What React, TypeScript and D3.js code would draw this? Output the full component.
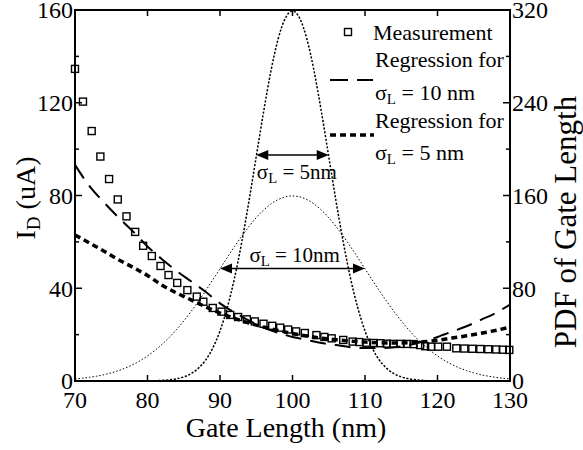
import React from 'react';
import * as d3 from 'd3';

// measured drain current vs gate length
const gateLength = [70, 71.1, 72.3, 73.5, 74.7, 75.9, 77.1, 78.3, 79.4, 80.6, 81.8, 82.9, 84.1, 85.5, 86.8, 87.7, 89.0, 90.2, 91.4, 92.5, 93.7, 94.8, 96.0, 97.2, 98.3, 99.4, 100.5, 101.7, 103.3, 104.4, 105.4, 107.0, 108.3, 109.2, 110.2, 111.2, 112.1, 113.0, 113.9, 114.9, 115.8, 116.7, 117.6, 118.3, 119.1, 120.1, 121.3, 122.6, 123.7, 124.8, 125.9, 127.0, 128.1, 129.0, 129.9];
const measured = [134.6, 120.5, 107.8, 96.8, 87.1, 78.3, 71.0, 64.3, 58.3, 53.9, 49.6, 45.7, 42.3, 39.2, 36.4, 34.2, 31.5, 29.9, 28.5, 27.6, 26.6, 25.7, 24.7, 23.8, 23.0, 22.2, 21.4, 20.7, 19.8, 19.0, 18.4, 17.7, 17.0, 16.8, 16.5, 16.4, 16.3, 16.1, 16.0, 16.0, 16.0, 15.9, 15.5, 15.0, 14.8, 14.8, 14.8, 14.1, 14.0, 13.9, 13.8, 13.7, 13.6, 13.5, 13.4];

// regression curves
const fitX = [70, 72, 74, 76, 78, 80, 82, 84, 86, 88, 90, 92, 94, 96, 98, 100, 102, 104, 106, 108, 110, 112, 114, 116, 118, 120, 122, 124, 126, 128, 130];
const fit10 = [93.2, 84.0, 77.0, 70.5, 64.5, 58.0, 52.5, 47.5, 43.0, 38.5, 33.5, 29.5, 26.0, 23.0, 20.8, 19.0, 17.7, 16.4, 15.5, 14.6, 14.2, 14.2, 14.6, 15.5, 17.0, 19.0, 21.3, 23.6, 26.4, 29.3, 33.0];
const fit5 = [63.0, 59.5, 56.0, 52.3, 49.0, 45.5, 41.3, 38.0, 35.0, 32.0, 29.3, 27.0, 25.0, 23.3, 21.8, 20.5, 19.4, 18.5, 17.8, 17.2, 16.8, 16.5, 16.4, 16.5, 16.9, 17.6, 18.5, 19.5, 20.6, 21.8, 23.2];

// gate length PDFs (right axis), 1 nm steps 70..130
const pdfX = d3.range(70, 131);
const pdf5 = [0, 0, 0, 0, 0, 0, 0, 0, 0, 0, 0.1, 0.2, 0.5, 1.0, 1.9, 3.5, 6.3, 10.9, 17.9, 28.4, 43.2, 63.2, 88.7, 119.8, 155.4, 193.6, 231.7, 266.6, 294.6, 312.8, 319.2,
  312.8, 294.6, 266.6, 231.7, 193.6, 155.4, 119.8, 88.7, 63.2, 43.2, 28.4, 17.9, 10.9, 6.3, 3.5, 1.9, 1.0, 0.5, 0.2, 0.1, 0, 0, 0, 0, 0, 0, 0, 0, 0, 0];
const pdf10 = [1.8, 2.4, 3.2, 4.2, 5.4, 7.0, 9.0, 11.3, 14.2, 17.6, 21.6, 26.3, 31.6, 37.6, 44.4, 51.8, 59.9, 68.6, 77.7, 87.2, 96.8, 106.5, 115.9, 124.9, 133.3, 140.9, 147.3, 152.6, 156.4, 158.8, 159.6,
  158.8, 156.4, 152.6, 147.3, 140.9, 133.3, 124.9, 115.9, 106.5, 96.8, 87.2, 77.7, 68.6, 59.9, 51.8, 44.4, 37.6, 31.6, 26.3, 21.6, 17.6, 14.2, 11.3, 9.0, 7.0, 5.4, 4.2, 3.2, 2.4, 1.8];

// annotation arrows: [from, to, pdf level]
const arrow5 = [95, 105, 195];
const arrow10 = [90, 110, 97];

const xTicks = [70, 80, 90, 100, 110, 120, 130];
const leftTicks = [0, 40, 80, 120, 160];
const leftMinor = [20, 60, 100, 140];
const rightTicks = [0, 80, 160, 240, 320];
const rightMinor = [40, 120, 200, 280];

const W = 583, H = 450;
const m = { l: 75, r: 73, t: 10, b: 69 };
const FONT = '"Liberation Serif", "Times New Roman", serif';

export default function App() {
  const x = d3.scaleLinear().domain([70, 130]).range([m.l, W - m.r]);
  const y = d3.scaleLinear().domain([0, 160]).range([H - m.b, m.t]);
  const y2 = d3.scaleLinear().domain([0, 320]).range([H - m.b, m.t]);
  const x0 = x.range()[0], x1 = x.range()[1];
  const yb = y.range()[0], yt = y.range()[1];

  const line = d3.line<[number, number]>().x(d => x(d[0])).y(d => y(d[1])).curve(d3.curveMonotoneX);
  const line2 = d3.line<[number, number]>().x(d => x(d[0])).y(d => y2(d[1])).curve(d3.curveMonotoneX);

  const arrow = (a: number[], key: string) => {
    const ax0 = x(a[0]), ax1 = x(a[1]), ay = y2(a[2]);
    const hl = 12, hw = 5;
    return (
      <g key={key}>
        <line x1={ax0 + hl - 1} x2={ax1 - hl + 1} y1={ay} y2={ay} stroke="#000" strokeWidth={1.5} />
        <path d={`M${ax0},${ay}L${ax0 + hl},${ay - hw}L${ax0 + hl},${ay + hw}Z`} fill="#000" />
        <path d={`M${ax1},${ay}L${ax1 - hl},${ay - hw}L${ax1 - hl},${ay + hw}Z`} fill="#000" />
      </g>
    );
  };

  const sigma = (label: string, tx: number, ty: number, size: number) => (
    <text x={tx} y={ty} fontSize={size} textAnchor="middle">
      σ<tspan fontSize={size * 0.7} dy={4}>L</tspan><tspan dy={-4}>{label}</tspan>
    </text>
  );

  return (
    <svg width={W} height={H} style={{ position: 'absolute', left: 0, top: 0, background: '#fff' }}>
      <g fontFamily={FONT}>
      {/* PDFs */}
      <path d={line2(pdfX.map((v, i) => [v, pdf10[i]]) as any) || ''} fill="none" stroke="#000" strokeWidth={1} strokeDasharray="1.5,2" />
      <path d={line2(pdfX.map((v, i) => [v, pdf5[i]]) as any) || ''} fill="none" stroke="#000" strokeWidth={1.5} strokeDasharray="2.2,1.6" />

      {/* regressions */}
      <path d={line(fitX.map((v, i) => [v, fit10[i]]) as any) || ''} fill="none" stroke="#000" strokeWidth={2} strokeDasharray="16,9" />
      <path d={line(fitX.map((v, i) => [v, fit5[i]]) as any) || ''} fill="none" stroke="#000" strokeWidth={3.5} strokeDasharray="6,4" />

      {/* measurement */}
      {gateLength.map((g, i) => (
        <rect key={i} x={x(g) - 3.5} y={y(measured[i]) - 3.5} width={7} height={7} fill="none" stroke="#000" strokeWidth={1.4} />
      ))}

      {/* annotations */}
      {arrow(arrow5, 'a5')}
      {arrow(arrow10, 'a10')}
      {sigma(' = 5nm', x(100.6), y2(arrow5[2]) + 24, 21)}
      {sigma(' = 10nm', x(100.3), y2(arrow10[2]) - 7, 21)}

      {/* frame */}
      <rect x={x0} y={yt} width={x1 - x0} height={yb - yt} fill="none" stroke="#000" strokeWidth={2} />

      {/* x ticks */}
      {xTicks.map(t => (
        <g key={'x' + t}>
          <line x1={x(t)} x2={x(t)} y1={yb} y2={yb - 6} stroke="#000" strokeWidth={1.5} />
          <line x1={x(t)} x2={x(t)} y1={yt} y2={yt + 6} stroke="#000" strokeWidth={1.5} />
          <text x={x(t)} y={yb + 27} fontSize={24} textAnchor="middle">{t}</text>
        </g>
      ))}
      {/* left ticks */}
      {leftTicks.map(t => (
        <g key={'l' + t}>
          <line x1={x0} x2={x0 + 7} y1={y(t)} y2={y(t)} stroke="#000" strokeWidth={1.5} />
          <text x={x0 - 2} y={y(t)} dy="0.35em" fontSize={24} textAnchor="end">{t}</text>
        </g>
      ))}
      {leftMinor.map(t => (
        <line key={'lm' + t} x1={x0} x2={x0 + 4} y1={y(t)} y2={y(t)} stroke="#000" strokeWidth={1.5} />
      ))}
      {/* right ticks */}
      {rightTicks.map(t => (
        <g key={'r' + t}>
          <line x1={x1} x2={x1 - 7} y1={y2(t)} y2={y2(t)} stroke="#000" strokeWidth={1.5} />
          <text x={x1 + 2} y={y2(t)} dy="0.35em" fontSize={24} textAnchor="start">{t}</text>
        </g>
      ))}
      {rightMinor.map(t => (
        <line key={'rm' + t} x1={x1} x2={x1 - 4} y1={y2(t)} y2={y2(t)} stroke="#000" strokeWidth={1.5} />
      ))}

      {/* axis titles */}
      <text x={286} y={437} fontSize={28} textAnchor="middle">Gate Length (nm)</text>
      <text transform={`translate(35,198) rotate(-90)`} fontSize={28} textAnchor="middle">
        I<tspan fontSize={19} dy={5}>D</tspan><tspan dy={-5}> (uA)</tspan>
      </text>
      <text transform={`translate(576,222) rotate(-90)`} fontSize={31} textAnchor="middle">PDF of Gate Length</text>

      {/* legend */}
      <rect x={344.5} y={28.5} width={7} height={7} fill="none" stroke="#000" strokeWidth={1.4} />
      <text x={373} y={40} fontSize={22}>Measurement</text>
      <line x1={330} x2={373} y1={80} y2={80} stroke="#000" strokeWidth={2} strokeDasharray="18,9" />
      <text x={375} y={67} fontSize={22}>Regression for</text>
      {sigmaLegend(' = 10 nm', 375, 100)}
      <line x1={330} x2={374} y1={135} y2={135} stroke="#000" strokeWidth={3.5} strokeDasharray="6,4" />
      <text x={375} y={128} fontSize={22}>Regression for</text>
      {sigmaLegend(' = 5 nm', 375, 160)}
      </g>
    </svg>
  );
}

function sigmaLegend(label: string, tx: number, ty: number) {
  return (
    <text x={tx} y={ty} fontSize={22}>
      σ<tspan fontSize={15} dy={4}>L</tspan><tspan dy={-4}>{label}</tspan>
    </text>
  );
}
